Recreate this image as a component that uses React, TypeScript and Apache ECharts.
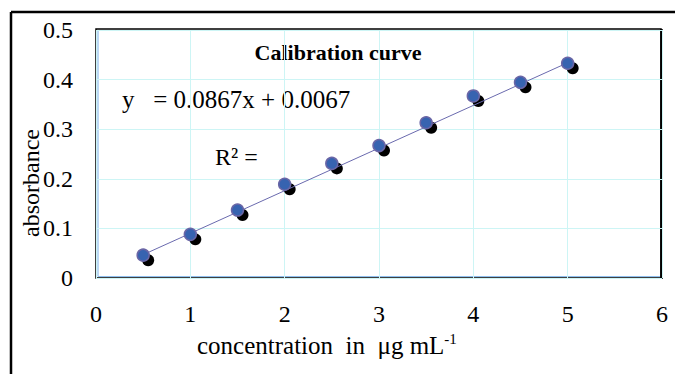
import React, { useEffect, useRef } from "react";
import * as echarts from "echarts";

const concentrations = [0.5, 1, 1.5, 2, 2.5, 3, 3.5, 4, 4.5, 5];
const absorbances = [0.046, 0.088, 0.137, 0.189, 0.231, 0.267, 0.313, 0.367, 0.3945, 0.433];
const trendX = [0.5, 5];
const trendY = [0.047, 0.434];

const FONT = "Liberation Serif";

export default function App() {
  const ref = useRef<HTMLDivElement>(null);
  useEffect(() => {
    if (!ref.current) return;
    const chart = echarts.init(ref.current, null, { renderer: "svg" });
    const pts = concentrations.map((x, i) => [x, absorbances[i]]);
    const trend = trendX.map((x, i) => [x, trendY[i]]);
    chart.setOption({
      animation: false,
      backgroundColor: "#ffffff",
      textStyle: { fontFamily: FONT },
      grid: { left: 96, right: 13, top: 30, bottom: 96 },
      xAxis: {
        type: "value",
        min: 0,
        max: 6,
        interval: 1,
        axisLine: { show: false },
        axisTick: { show: false },
        axisLabel: { color: "#000", fontSize: 24, fontFamily: FONT, margin: 24 },
        splitLine: { show: true, lineStyle: { color: "#cdf5f5", width: 1 } },
      },
      yAxis: {
        type: "value",
        min: 0,
        max: 0.5,
        interval: 0.1,
        axisLine: { show: false },
        axisTick: { show: false },
        axisLabel: { color: "#000", fontSize: 24, fontFamily: FONT, margin: 23 },
        splitLine: { show: true, lineStyle: { color: "#cdf5f5", width: 1 } },
      },
      series: [
        {
          type: "scatter",
          data: pts,
          symbol: "circle",
          symbolSize: 12,
          symbolOffset: [5, 5],
          itemStyle: { color: "#000000", opacity: 1 },
          z: 1,
        },
        {
          type: "line",
          data: trend,
          symbol: "none",
          lineStyle: { color: "#6a6aae", width: 1 },
          z: 2,
        },
        {
          type: "scatter",
          data: pts,
          symbol: "circle",
          symbolSize: 12,
          itemStyle: { color: "#3763b0", borderColor: "#6a66a6", borderWidth: 1.5, opacity: 1 },
          z: 3,
        },
      ],
      graphic: [
        {
          type: "line",
          shape: { x1: 11, y1: 12, x2: 675, y2: 12 },
          style: { stroke: "#000", lineWidth: 2.5 },
        },
        {
          type: "line",
          shape: { x1: 11, y1: 12, x2: 11, y2: 374 },
          style: { stroke: "#000", lineWidth: 2.5 },
        },
        {
          type: "rect",
          shape: { x: 96, y: 29, width: 565, height: 249 },
          style: { fill: "none", stroke: "#000", lineWidth: 1.5 },
        },
        {
          type: "line",
          shape: { x1: 661.5, y1: 29, x2: 661.5, y2: 279 },
          style: { stroke: "#000", lineWidth: 2.5 },
        },
        {
          type: "line",
          shape: { x1: 98, y1: 30, x2: 98, y2: 276.5 },
          style: { stroke: "#8fbfee", lineWidth: 1.2 },
        },
        {
          type: "line",
          shape: { x1: 98, y1: 276.5, x2: 660, y2: 276.5 },
          style: { stroke: "#8fbfee", lineWidth: 1.2 },
        },
        {
          type: "text",
          x: 338,
          y: 52,
          style: {
            text: "Calibration curve",
            fontFamily: FONT,
            fontWeight: "bold",
            fontSize: 22,
            fill: "#000",
            align: "center",
            verticalAlign: "middle",
          },
        },
        {
          type: "text",
          x: 122,
          y: 99,
          style: {
            text: "y   = 0.0867x + 0.0067",
            fontFamily: FONT,
            fontSize: 25,
            fill: "#000",
            align: "left",
            verticalAlign: "middle",
          },
        },
        {
          type: "text",
          x: 215,
          y: 157,
          style: {
            text: "R² =",
            fontFamily: FONT,
            fontSize: 24,
            fill: "#000",
            align: "left",
            verticalAlign: "middle",
          },
        },
        {
          type: "text",
          x: 31,
          y: 183,
          rotation: Math.PI / 2,
          style: {
            text: "absorbance",
            fontFamily: FONT,
            fontSize: 24,
            fill: "#000",
            align: "center",
            verticalAlign: "middle",
          },
        },
        {
          type: "text",
          x: 197,
          y: 345,
          style: {
            text: "{a|concentration  in  μg mL}{s|-1}",
            fontFamily: FONT,
            fontSize: 25,
            fill: "#000",
            align: "left",
            verticalAlign: "middle",
            rich: {
              a: { fontFamily: FONT, fontSize: 25, fill: "#000", lineHeight: 28 },
              s: { fontFamily: FONT, fontSize: 15, fill: "#000", verticalAlign: "top", lineHeight: 28 },
            },
          },
        },
      ],
    });
    return () => chart.dispose();
  }, []);
  return (
    <div
      ref={ref}
      style={{ position: "fixed", left: 0, top: 0, width: 675, height: 374 }}
    />
  );
}
